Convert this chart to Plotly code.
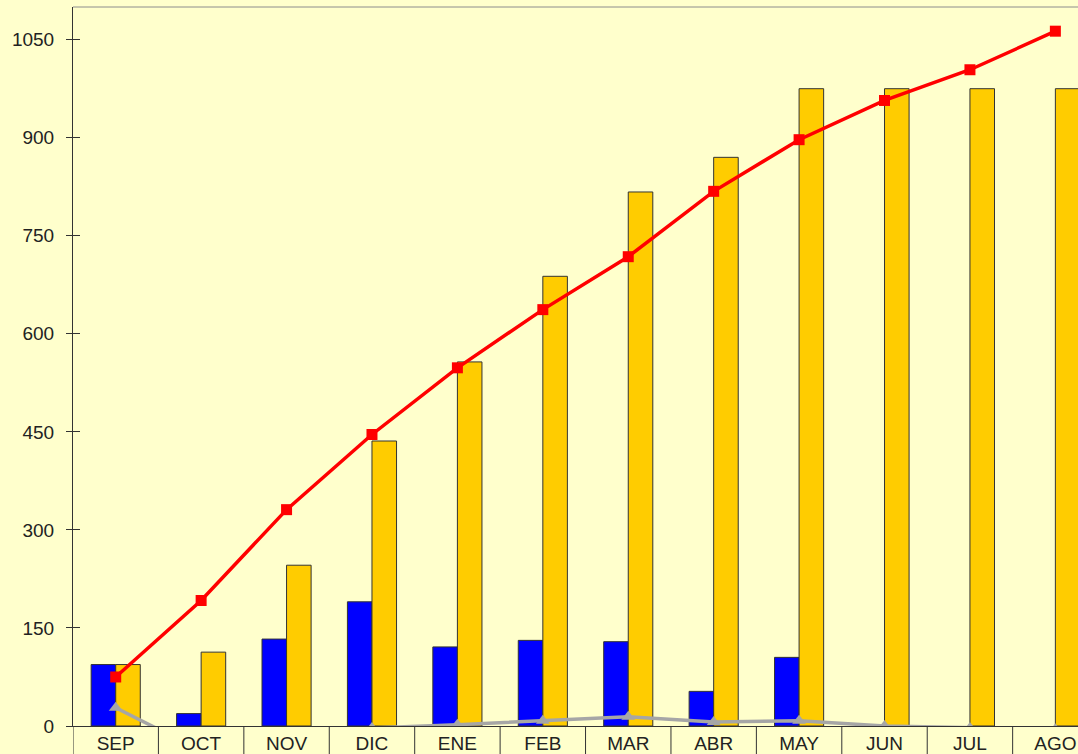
import plotly.graph_objects as go

# Monthly data (school year SEP..AGO)
months = ["SEP", "OCT", "NOV", "DIC", "ENE", "FEB", "MAR", "ABR", "MAY", "JUN", "JUL", "AGO"]
monthly = [94, 19, 133, 190, 121, 131, 129, 53, 105, None, None, None]
accumulated = [94, 113, 246, 436, 557, 688, 817, 870, 975, 975, 975, 975]
target = [75, 192, 331, 446, 548, 637, 718, 818, 897, 957, 1004, 1063]
difference = [28, -38, -20, -3, 2, 8, 14, 6, 8, 0, -3, -5]
y_ticks = [0, 150, 300, 450, 600, 750, 900, 1050]

BG = "#FFFFCC"
FONT = "Liberation Sans, Arial, sans-serif"
x_idx = list(range(len(months)))

fig = go.Figure()
fig.add_trace(go.Bar(x=x_idx, y=monthly, marker=dict(color="#0000FF", line=dict(color="#333333", width=1)),
                     hoverinfo="skip"))
fig.add_trace(go.Bar(x=x_idx, y=accumulated, marker=dict(color="#FFCC00", line=dict(color="#333333", width=1)),
                     hoverinfo="skip"))
fig.add_trace(go.Scatter(x=x_idx, y=target, mode="lines+markers",
                         line=dict(color="#FF0000", width=3.5),
                         marker=dict(symbol="square", size=11, color="#FF0000"),
                         hoverinfo="skip"))
fig.add_trace(go.Scatter(x=x_idx, y=difference, mode="lines+markers",
                         line=dict(color="#A6A6A6", width=3.5),
                         marker=dict(symbol="triangle-up", size=12, color="#A6A6A6"),
                         hoverinfo="skip"))
# invisible trace so the inner-tick axis is rendered
fig.add_trace(go.Scatter(x=[None], y=[None], yaxis="y2", showlegend=False, hoverinfo="skip"))

# category separators running below the axis
shapes = []
for i in range(len(months) + 1):
    shapes.append(dict(type="line", xref="x", yref="paper", x0=i - 0.5, x1=i - 0.5, y0=0, y1=-0.05,
                       line=dict(color="#333333", width=1)))
# thin frame line along the top of the plot
shapes.append(dict(type="line", xref="paper", yref="paper", x0=0, x1=1, y0=1, y1=1,
                   line=dict(color="#8C8C8C", width=1)))

fig.update_layout(
    width=1078, height=754,
    margin=dict(l=73, r=0, t=7, b=25),
    paper_bgcolor=BG, plot_bgcolor=BG,
    showlegend=False,
    barmode="group", bargap=0.425, bargroupgap=0,
    font=dict(family=FONT, size=19, color="#222222"),
    shapes=shapes,
    xaxis=dict(range=[-0.5, 11.265], tickmode="array", tickvals=x_idx, ticktext=months,
               showgrid=False, zeroline=False, showline=True, linecolor="#333333", linewidth=1,
               ticks="", tickfont=dict(size=19, color="#222222")),
    yaxis=dict(range=[0, 1100], tickmode="array", tickvals=y_ticks,
               showgrid=False, zeroline=False, showline=True, linecolor="#333333", linewidth=1,
               ticks="outside", ticklen=6, tickcolor="#333333", ticklabelstandoff=8,
               tickfont=dict(size=19, color="#222222")),
    yaxis2=dict(range=[0, 1100], overlaying="y", side="left", tickmode="array", tickvals=y_ticks,
                showgrid=False, zeroline=False, showline=False, showticklabels=False,
                ticks="inside", ticklen=7, tickcolor="#333333"),
)

fig.write_html("out.html", config={"displayModeBar": False})
